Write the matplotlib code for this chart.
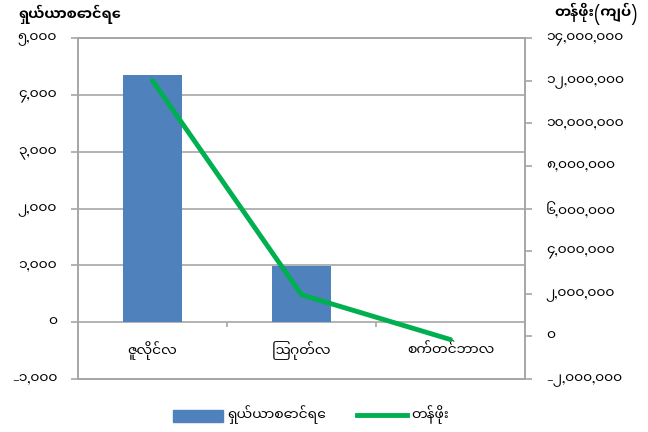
import numpy as np
import matplotlib
matplotlib.use("Agg")
import matplotlib.pyplot as plt
from matplotlib.ticker import FuncFormatter
from matplotlib.patches import Patch
from matplotlib.lines import Line2D

plt.rcParams['font.family'] = ['Noto Sans Myanmar UI', 'Padauk', 'DejaVu Sans']

months = ['ဇူလိုင်လ', 'ဩဂုတ်လ', 'စက်တင်ဘာလ']
shares = [4350, 980, 0]                       # ရှယ်ယာစောင်ရေ (left axis)
value = [12000000, 1950000, -150000]          # တန်ဖိုး (ကျပ်) (right axis)
left_ticks = [-1000, 0, 1000, 2000, 3000, 4000, 5000]
right_ticks = [-2000000, 0, 2000000, 4000000, 6000000, 8000000,
               10000000, 12000000, 14000000]
left_title = 'ရှယ်ယာစောင်ရေ'
right_title = 'တန်ဖိုး(ကျပ်)'
legend_labels = ['ရှယ်ယာစောင်ရေ', 'တန်ဖိုး']

bar_col = '#4F81BD'
line_col = '#00B050'
grid_col = '#A6A6A6'
txt_col = '#000000'

burmese = str.maketrans('0123456789', '၀၁၂၃၄၅၆၇၈၉')
def mm(v, pos=None):
    return f'{int(v):,}'.translate(burmese)

fig = plt.figure(figsize=(6.48, 4.32), dpi=100)
ax = fig.add_axes([78/648, 53/432, 447/648, 341/432])
ax2 = ax.twinx()

x = np.arange(len(months))
ax.bar(x, shares, width=0.4, color=bar_col, zorder=3)
ax.set_xlim(-0.5, 2.5)
ax.set_ylim(left_ticks[0], left_ticks[-1])
ax.set_yticks(left_ticks)
ax.yaxis.set_major_formatter(FuncFormatter(mm))
ax.grid(axis='y', color=grid_col, lw=1.2, zorder=0)
ax.set_xticks([])
for i, m in enumerate(months):
    ax.text(i, -500, m, ha='center', va='center', fontsize=10, color=txt_col)
# category separator ticks on zero line
ax.vlines([0.5, 1.5], -90, 0, color=grid_col, lw=1.2)

ax2.plot(x, value, color=line_col, lw=3.5, solid_capstyle='round', zorder=4)
ax2.set_ylim(right_ticks[0], right_ticks[-1])
ax2.set_yticks(right_ticks)
ax2.yaxis.set_major_formatter(FuncFormatter(mm))

for a in (ax, ax2):
    for s in a.spines.values():
        s.set_color(grid_col)
        s.set_linewidth(1.2)
    a.tick_params(axis='y', length=5, width=1.2, color=grid_col,
                  labelsize=10, labelcolor=txt_col)
ax.tick_params(axis='y', pad=10)
ax2.tick_params(axis='y', pad=10)

fig.text(18/648, 1 - 14/432, left_title, fontsize=10.5, fontweight='bold',
         ha='left', va='center')
fig.text(638/648, 1 - 3/432, right_title, fontsize=10.5, fontweight='bold',
         ha='right', va='top')

handles = [Patch(color=bar_col), Line2D([0], [0], color=line_col, lw=3.5)]
fig.legend(handles, legend_labels, loc='center', bbox_to_anchor=(0.48, 1 - 415/432),
           ncol=2, frameon=False, fontsize=10, handlelength=3.6,
           handleheight=1.0, columnspacing=2.2, handletextpad=0.3)

fig.savefig('out.png', dpi=100)
